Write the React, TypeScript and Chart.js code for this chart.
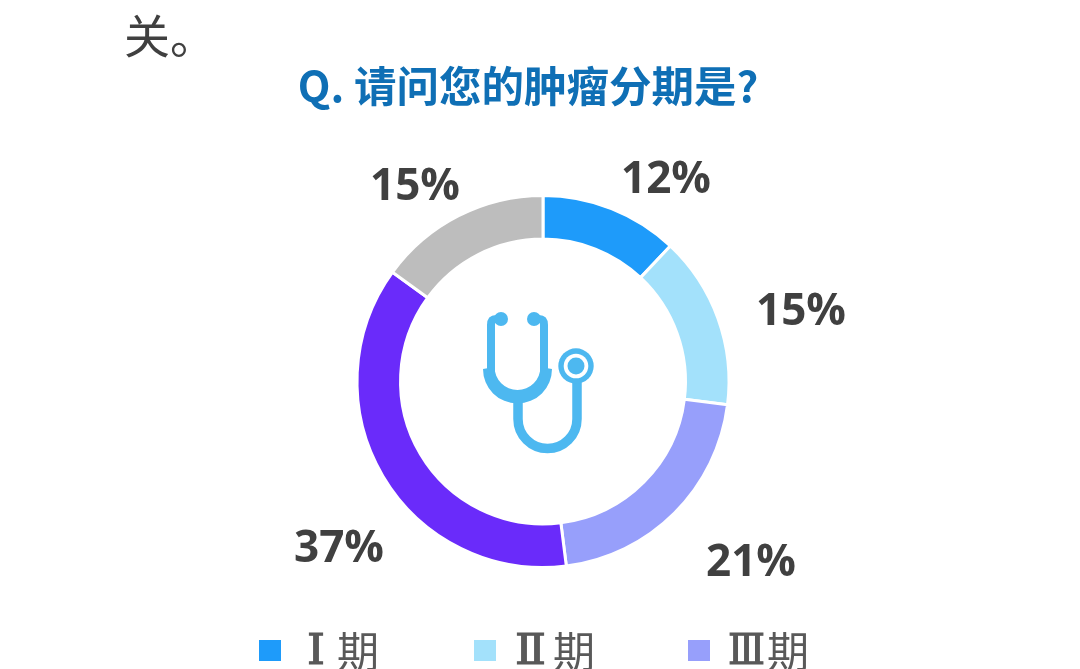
import React, { useEffect, useRef } from 'react';
import { Chart, registerables } from 'chart.js';

Chart.register(...registerables);

const categories = ['Ⅰ期', 'Ⅱ期', 'Ⅲ期', '', ''];
const values = [12, 15, 21, 37, 15];
const colors = ['#1E9BFA', '#A3E1FB', '#979FFB', '#6A2BFA', '#BDBDBD'];
const legendCount = 3;

const CJK = '"Noto Sans CJK SC", "Noto Sans", sans-serif';

// label anchors, the picture places them by hand
const pctPos = [[666, 180], [801, 312], [751, 563], [339, 549], [415, 187]];
const legendBox = [259, 474, 688];
const numeralBox = [[307, 18], [515, 31], [728, 37]];
const qiX = [337, 553, 767];

const decorations = {
  id: 'decorations',
  afterDraw(chart: any) {
    const ctx = chart.ctx;
    ctx.save();

    // text cut off from the page above
    ctx.fillStyle = '#404040';
    ctx.textAlign = 'left';
    ctx.textBaseline = 'middle';
    ctx.font = `46px ${CJK}`;
    ctx.fillText('关。', 124, 36);

    ctx.fillStyle = '#0F6FB5';
    ctx.textAlign = 'center';
    ctx.font = `bold 42.5px ${CJK}`;
    ctx.fillText('Q. 请问您的肿瘤分期是?', 528, 86);

    ctx.fillStyle = '#404040';
    ctx.font = 'bold 44px "Open Sans", sans-serif';
    values.forEach((v, i) => {
      ctx.fillText(`${v}%`, pctPos[i][0], pctPos[i][1]);
    });

    // legend, the bottom of it is cropped by the page
    ctx.textAlign = 'left';
    for (let i = 0; i < legendCount; i++) {
      ctx.fillStyle = colors[i];
      ctx.fillRect(legendBox[i], 640, 22, 21);
      ctx.fillStyle = '#595959';
      ctx.strokeStyle = '#595959';

      // the numeral glyph is a wide serif one, stretch it to fit
      const numeral = categories[i][0];
      ctx.font = '43px "DejaVu Serif", serif';
      const w = ctx.measureText(numeral).width;
      const [nx, nw] = numeralBox[i];
      ctx.save();
      ctx.translate(nx, 653);
      ctx.scale(nw / w, 1);
      ctx.lineWidth = 1.2;
      ctx.fillText(numeral, 0, 0);
      ctx.strokeText(numeral, 0, 0);
      ctx.restore();

      ctx.font = `42px ${CJK}`;
      ctx.fillText(categories[i].slice(1), qiX[i], 651);
    }

    // stethoscope in the hole
    ctx.strokeStyle = '#4DB8F0';
    ctx.fillStyle = '#4DB8F0';
    ctx.lineCap = 'round';
    ctx.lineJoin = 'round';

    ctx.lineWidth = 8;
    ctx.beginPath();
    ctx.moveTo(500, 319);
    ctx.lineTo(496, 319);
    ctx.quadraticCurveTo(491, 319, 491, 325);
    ctx.lineTo(491, 372);
    ctx.stroke();
    ctx.beginPath();
    ctx.moveTo(535, 319);
    ctx.lineTo(539, 319);
    ctx.quadraticCurveTo(544, 319, 544, 325);
    ctx.lineTo(544, 372);
    ctx.stroke();

    ctx.beginPath();
    ctx.arc(501, 319, 7, 0, Math.PI * 2);
    ctx.fill();
    ctx.beginPath();
    ctx.arc(534, 319, 7, 0, Math.PI * 2);
    ctx.fill();

    // crescent where the two tubes join
    ctx.beginPath();
    ctx.moveTo(483, 369);
    ctx.arc(517.5, 369, 34.5, Math.PI, 0, true);
    ctx.lineTo(540, 367);
    ctx.arc(517.5, 367, 23, 0, Math.PI);
    ctx.closePath();
    ctx.fill();

    ctx.lineCap = 'butt';
    ctx.lineWidth = 9.5;
    ctx.beginPath();
    ctx.moveTo(518, 400);
    ctx.lineTo(518, 419);
    ctx.arc(547.5, 419, 29.5, Math.PI, 0, true);
    ctx.lineTo(577, 378);
    ctx.stroke();

    ctx.beginPath();
    ctx.arc(576, 366, 17.7, 0, Math.PI * 2);
    ctx.fill();
    ctx.fillStyle = '#FFFFFF';
    ctx.beginPath();
    ctx.arc(576, 366, 12.3, 0, Math.PI * 2);
    ctx.fill();
    ctx.fillStyle = '#4DB8F0';
    ctx.beginPath();
    ctx.arc(576, 366, 8.5, 0, Math.PI * 2);
    ctx.fill();

    ctx.restore();
  },
};

export default function App() {
  const canvasRef = useRef<HTMLCanvasElement | null>(null);

  useEffect(() => {
    const ctx = canvasRef.current?.getContext('2d');
    if (!ctx) return;
    const chart = new Chart(ctx, {
      type: 'doughnut',
      data: {
        labels: categories,
        datasets: [{ data: values, backgroundColor: colors, borderColor: '#FFFFFF', borderWidth: 3 }],
      },
      options: {
        animation: false,
        responsive: false,
        cutout: '76.6%',
        layout: { padding: { left: 355, right: 349, top: 194, bottom: 100 } },
        plugins: { legend: { display: false }, tooltip: { enabled: false } },
      },
      plugins: [decorations],
    } as any);
    return () => chart.destroy();
  }, []);

  return (
    <div style={{ position: 'fixed', left: 0, top: 0, width: 1080, height: 669, background: '#fff' }}>
      <canvas ref={canvasRef} width={1080} height={669} style={{ display: 'block' }} />
    </div>
  );
}
